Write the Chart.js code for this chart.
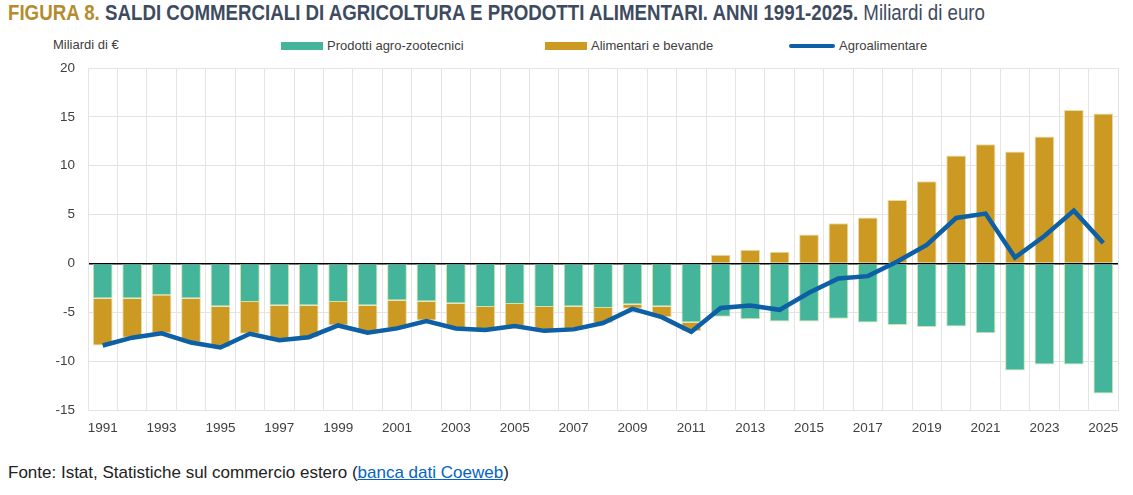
<!DOCTYPE html>
<html lang="it">
<head>
<meta charset="utf-8">
<title>Figura 8</title>
<script src="https://cdn.jsdelivr.net/npm/chart.js@4.4.1/dist/chart.umd.min.js"></script>
<style>
  html, body { margin: 0; padding: 0; background: #fff; }
  body { width: 1133px; height: 495px; position: relative; overflow: hidden; font-family: "Liberation Sans", Arial, sans-serif; }
  #title {
    position: absolute; left: 8px; top: 1px; white-space: nowrap;
    font-family: "Liberation Sans", Arial, sans-serif;
    font-size: 21.5px; font-weight: bold; color: #3e4b5e;
    transform: scaleX(0.87); transform-origin: 0 0;
  }
  #title .fig { color: #b58c2d; }
  #title .unit { font-weight: normal; }
  #ytitle { position: absolute; left: 53px; top: 37px; font-size: 13px; color: #404040; }
  .leg { position: absolute; top: 38px; font-size: 13px; color: #404040; white-space: nowrap; }
  .leg i { display: inline-block; vertical-align: middle; margin-right: 4px; position: relative; top: -1px; }
  #wrap { position: absolute; left: 0; top: 0; width: 1133px; height: 445px; }
  #source { position: absolute; left: 8px; top: 463px; font-size: 17px; color: #222; }
  #source a { color: #0563c1; }
</style>
</head>
<body>
<div id="title"><span class="fig">FIGURA 8.</span> SALDI COMMERCIALI DI AGRICOLTURA E PRODOTTI ALIMENTARI. ANNI 1991-2025. <span class="unit">Miliardi di euro</span></div>
<div id="ytitle">Miliardi di €</div>
<div class="leg" style="left:281px"><i style="width:42px;height:8px;background:#44b49b"></i>Prodotti agro-zootecnici</div>
<div class="leg" style="left:545px"><i style="width:42px;height:8px;background:#cc9a22"></i>Alimentari e bevande</div>
<div class="leg" style="left:789px"><i style="width:46px;height:4px;border-radius:2px;background:#0d5fa6"></i>Agroalimentare</div>
<div id="wrap"><canvas id="chart"></canvas></div>
<div id="source">Fonte: Istat, Statistiche sul commercio estero (<a href="#">banca dati Coeweb</a>)</div>

<script>
const years = [
  '1991', '1992', '1993', '1994', '1995', '1996', '1997', '1998', '1999', '2000',
  '2001', '2002', '2003', '2004', '2005', '2006', '2007', '2008', '2009', '2010',
  '2011', '2012', '2013', '2014', '2015', '2016', '2017', '2018', '2019', '2020',
  '2021', '2022', '2023', '2024', '2025'
];

// miliardi di euro
const agroZootecnici = [
  -3.6, -3.6, -3.25, -3.6, -4.4, -3.95, -4.3, -4.3, -3.95, -4.3,
  -3.8, -3.9, -4.1, -4.45, -4.15, -4.45, -4.4, -4.55, -4.2, -4.4,
  -6.05, -5.45, -5.7, -5.95, -5.95, -5.65, -6.05, -6.3, -6.5, -6.45,
  -7.15, -10.95, -10.35, -10.35, -13.3
];

const alimentariBevande = [
  -4.8, -4.0, -3.9, -4.5, -4.2, -3.25, -3.55, -3.25, -2.4, -2.8,
  -2.85, -1.95, -2.55, -2.35, -2.25, -2.45, -2.35, -1.55, -0.45, -1.1,
  -0.9, 0.9, 1.4, 1.2, 2.95, 4.1, 4.7, 6.5, 8.4, 11.05,
  12.2, 11.45, 13.0, 15.7, 15.35
];

const agroalimentare = [
  -8.4, -7.6, -7.15, -8.1, -8.6, -7.2, -7.85, -7.55, -6.35, -7.1,
  -6.65, -5.9, -6.65, -6.8, -6.4, -6.9, -6.75, -6.1, -4.65, -5.5,
  -7.0, -4.55, -4.3, -4.75, -3.0, -1.55, -1.3, 0.2, 1.9, 4.65,
  5.1, 0.6, 2.8, 5.4, 2.1
];

const xTickLabels = [
  '1991', '1993', '1995', '1997', '1999', '2001', '2003', '2005', '2007', '2009',
  '2011', '2013', '2015', '2017', '2019', '2021', '2023', '2025'
];

const yTicks = [-15, -10, -5, 0, 5, 10, 15, 20];

const gridColor = '#e4e4e4';
const tickColor = '#404040';

new Chart(document.getElementById('chart').getContext('2d'), {
  type: 'bar',
  data: {
    labels: years,
    datasets: [
      {
        type: 'line',
        label: 'Agroalimentare',
        data: agroalimentare,
        borderColor: '#0d5fa6',
        backgroundColor: '#0d5fa6',
        borderWidth: 4.5,
        pointRadius: 0,
        tension: 0,
        stack: 'line',
        order: 0
      },
      {
        label: 'Prodotti agro-zootecnici',
        data: agroZootecnici,
        backgroundColor: '#44b49b',
        borderColor: '#cfe4a6',
        borderWidth: 1,
        stack: 'saldi',
        order: 1
      },
      {
        label: 'Alimentari e bevande',
        data: alimentariBevande,
        backgroundColor: '#cc9a22',
        borderColor: '#e8dca8',
        borderWidth: 1,
        stack: 'saldi',
        order: 1
      }
    ]
  },
  options: {
    responsive: true,
    maintainAspectRatio: false,
    animation: false,
    datasets: {
      bar: { categoryPercentage: 1, barPercentage: 0.67 }
    },
    layout: { padding: { top: 68, right: 15, left: 0, bottom: 0 } },
    plugins: {
      legend: { display: false },
      tooltip: { enabled: false }
    },
    scales: {
      x: {
        stacked: true,
        offset: true,
        grid: { color: gridColor, offset: true, drawTicks: false },
        border: { color: gridColor },
        afterFit: function (scale) { scale.height = 35; },
        ticks: {
          color: tickColor,
          font: { family: '"Liberation Sans", Arial, sans-serif', size: 13.5 },
          padding: 10,
          autoSkip: false,
          maxRotation: 0,
          callback: function (value, index) {
            const label = years[index];
            return xTickLabels.includes(label) ? label : '';
          }
        }
      },
      y: {
        stacked: true,
        min: yTicks[0],
        max: yTicks[yTicks.length - 1],
        afterFit: function (scale) { scale.width = 88; },
        afterBuildTicks: function (scale) {
          scale.ticks = yTicks.map(v => ({ value: v }));
        },
        grid: {
          drawTicks: false,
          color: function (ctx) { return ctx.tick && ctx.tick.value === 0 ? '#000000' : gridColor; },
          lineWidth: function (ctx) { return ctx.tick && ctx.tick.value === 0 ? 1.5 : 1; }
        },
        border: { color: gridColor },
        ticks: {
          color: tickColor,
          font: { family: '"Liberation Sans", Arial, sans-serif', size: 13.5 },
          padding: 13
        }
      }
    }
  }
});
</script>
</body>
</html>
